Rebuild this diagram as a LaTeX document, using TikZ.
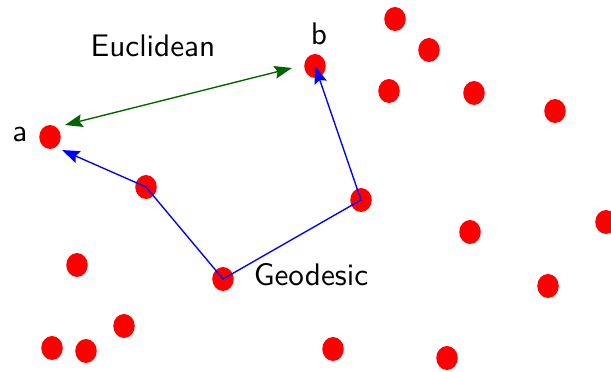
\documentclass[tikz,border=0pt]{standalone}
\usepackage{tikz}
\usetikzlibrary{arrows.meta,positioning}
\usetikzlibrary{shapes.geometric}
\usepackage{xcolor}
\definecolor{ptred}{RGB}{255,0,0}
\definecolor{pathblue}{RGB}{0,0,255}
\definecolor{eucgreen}{RGB}{0,100,0}
\tikzset{
    dot/.style={
        ellipse,fill=ptred,draw=none,inner sep=0pt,
        minimum width=7.1pt,minimum height=7.9pt
    },
    lbl/.style={
        font=\fontsize{10.3}{12}\sffamily,text=black,inner sep=0pt
    },
    arrow/.style={
        {Stealth[length=5.8pt,width=4.2pt,inset=0.9pt]}-{Stealth[length=5.8pt,width=4.2pt,inset=0.9pt]},
        line width=0.45pt
    }
}

\begin{document}
\begin{tikzpicture}[x=0.33pt,y=-0.33pt]
\useasboundingbox (0,0) rectangle (611,372);

% the two end points
\node[dot](a) at (50,137) {};
\node[dot](b) at (315,66) {};

% points on the geodesic
\node[dot](u) at (146,187) {};
\node[dot](g) at (223,279) {};
\node[dot](r) at (361,200) {};

% the other points
\node[dot](t1) at (395,19) {};
\node[dot](t2) at (429,50) {};
\node[dot](t3) at (389,91) {};
\node[dot](t4) at (474,93) {};
\node[dot](t5) at (555,111) {};
\node[dot](m1) at (470,232) {};
\node[dot](m2) at (606,222) {};
\node[dot](m3) at (548,286) {};
\node[dot](l1) at (77,265) {};
\node[dot](l2) at (124,326) {};
\node[dot](l3) at (52,348) {};
\node[dot](l4) at (86,351) {};
\node[dot](d1) at (333,349) {};
\node[dot](d2) at (447,358) {};

% labels
\node[lbl](la) at (20,134) {a};
\node[lbl](lb) at (319,34) {b};
\node[lbl](leuc) at (153,46) {Euclidean};
\node[lbl](lgeo) at (311,275) {Geodesic};

% arrow ends
\coordinate (ga) at (62,150);
\coordinate (ea) at (65,125);
\coordinate (eb) at (292,68);

\draw[arrow,pathblue](ga)--(u.center)--(g.center)--(r.center)--(b.center);
\draw[arrow,eucgreen](ea)--(eb);

\end{tikzpicture}
\end{document}
